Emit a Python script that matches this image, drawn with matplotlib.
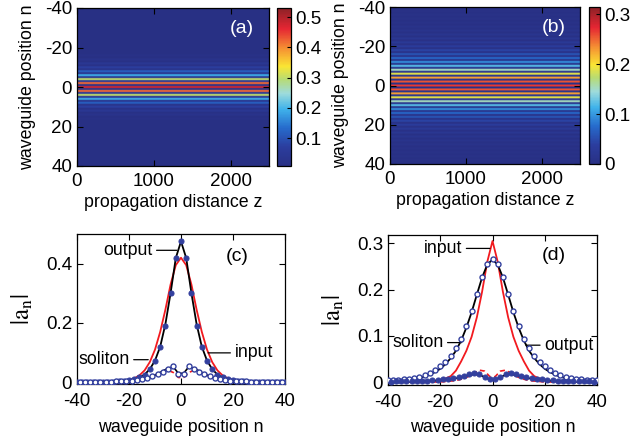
import numpy as np
import matplotlib
matplotlib.use('Agg')
import matplotlib.pyplot as plt
from matplotlib.colors import LinearSegmentedColormap

plt.rcParams['font.family'] = ['Liberation Sans', 'DejaVu Sans']
plt.rcParams['axes.unicode_minus'] = False
plt.rcParams['mathtext.fontset'] = 'stix'

# ---------------- data (half profiles, symmetric about n = 0) ----------------
n_even_half = np.arange(0, 41, 2)      # 0, 2, ..., 40
n_odd_half = np.arange(1, 40, 2)       # 1, 3, ..., 39

# panel (c): large sublattice (even sites)
c_soliton_main = [0.475, 0.419, 0.301, 0.196, 0.120, 0.073, 0.044, 0.026, 0.016, 0.0094, 0.0056,
                  0.0034, 0.002, 0.0012, 0.0007, 0.0004, 0.0003, 0.0002, 0.0001, 0.0001, 0.0001]
c_output_main = [0.478, 0.42, 0.30, 0.19, 0.118, 0.072, 0.043, 0.026, 0.016, 0.010, 0.006,
                 0.004, 0.003, 0.002, 0.002, 0.002, 0.002, 0.002, 0.002, 0.002, 0.002]
c_input_main = [0.42, 0.395, 0.33, 0.245, 0.17, 0.11, 0.068, 0.040, 0.023, 0.013, 0.007,
                0.004, 0.002, 0.001, 0.0006, 0.0004, 0.0002, 0.0001, 0.0001, 0.0001, 0.0001]
# panel (c): small sublattice (odd sites)
c_soliton_small = [0.030, 0.052, 0.047, 0.038, 0.028, 0.020, 0.014, 0.010, 0.007, 0.005,
                   0.0035, 0.0025, 0.0017, 0.0012, 0.0008, 0.0006, 0.0004, 0.0003, 0.0002, 0.0001]
c_output_small = [0.028, 0.054, 0.045, 0.036, 0.027, 0.020, 0.014, 0.010, 0.007, 0.005,
                  0.004, 0.003, 0.003, 0.002, 0.002, 0.002, 0.002, 0.002, 0.002, 0.002]
c_input_small = [0.016, 0.033, 0.040, 0.036, 0.028, 0.020, 0.013, 0.008, 0.005, 0.003,
                 0.002, 0.001, 0.0006, 0.0004, 0.0002, 0.0001, 0.0001, 0.0001, 0.0001, 0.0001]

# panel (d): large sublattice (even sites)
d_soliton_main = [0.265, 0.254, 0.226, 0.189, 0.151, 0.118, 0.090, 0.068, 0.052, 0.039, 0.029,
                  0.022, 0.016, 0.012, 0.009, 0.007, 0.005, 0.004, 0.003, 0.002, 0.0015]
d_output_main = [0.266, 0.256, 0.228, 0.19, 0.153, 0.121, 0.094, 0.073, 0.057, 0.044, 0.034,
                 0.026, 0.020, 0.015, 0.012, 0.009, 0.007, 0.006, 0.005, 0.004, 0.004]
d_input_main = [0.305, 0.26, 0.195, 0.14, 0.098, 0.068, 0.045, 0.025, 0.013, 0.008, 0.005,
                0.003, 0.002, 0.0015, 0.001, 0.0008, 0.0006, 0.0005, 0.0004, 0.0003, 0.0002]
# panel (d): small sublattice (odd sites)
d_output_small = [0.006, 0.012, 0.018, 0.019, 0.017, 0.014, 0.011, 0.009, 0.0075, 0.006,
                  0.005, 0.0042, 0.0036, 0.003, 0.0026, 0.0023, 0.002, 0.0018, 0.0016, 0.0015]
d_soliton_small = [0.005, 0.011, 0.016, 0.017, 0.015, 0.012, 0.0095, 0.0075, 0.006, 0.0048,
                   0.0038, 0.003, 0.0024, 0.002, 0.0016, 0.0013, 0.001, 0.0008, 0.0007, 0.0006]
d_input_small = [0.012, 0.024, 0.026, 0.020, 0.013, 0.008, 0.005, 0.003, 0.002, 0.001,
                 0.0006, 0.0004, 0.0002, 0.0001, 0.0001, 0.0001, 0.0001, 0.0001, 0.0001, 0.0001]

z_samples = np.linspace(0, 2500, 26)
z_ticks = [0, 1000, 2000]
n_ticks = [-40, -20, 0, 20, 40]
cbar_a_ticks = [0.1, 0.2, 0.3, 0.4, 0.5]
cbar_b_ticks = [0, 0.1, 0.2, 0.3]
c_yticks = [0, 0.2, 0.4]
d_yticks = [0, 0.1, 0.2, 0.3]


def mirror_even(half):
    h = np.asarray(half, float)
    return np.concatenate([h[:0:-1], h])


def mirror_odd(half):
    h = np.asarray(half, float)
    return np.concatenate([h[::-1], h])


n_even = np.concatenate([-n_even_half[:0:-1], n_even_half])
n_odd = np.concatenate([-n_odd_half[::-1], n_odd_half])


def full_profile(main_half, small_half):
    prof = np.zeros(81)
    prof[n_even + 40] = mirror_even(main_half)
    prof[n_odd + 40] = mirror_odd(small_half)
    return prof


# ---------------- style ----------------
cmap = LinearSegmentedColormap.from_list('printjet', [
    (0.00, (0.16, 0.19, 0.52)),
    (0.12, (0.17, 0.24, 0.62)),
    (0.24, (0.15, 0.42, 0.80)),
    (0.36, (0.25, 0.70, 0.92)),
    (0.46, (0.62, 0.86, 0.86)),
    (0.55, (0.72, 0.86, 0.45)),
    (0.63, (0.98, 0.90, 0.20)),
    (0.75, (0.96, 0.55, 0.20)),
    (0.87, (0.90, 0.15, 0.20)),
    (1.00, (0.55, 0.13, 0.15)),
])

W, H = 643, 441


def rect(l, r, t, b):
    return [l / W, 1 - b / H, (r - l) / W, (b - t) / H]


fig = plt.figure(figsize=(W / 100, H / 100), dpi=100)

TICK = 13.5
LAB = 12.8


def style_ax(ax, xpad):
    ax.tick_params(direction='in', top=True, right=True, length=4, width=0.8,
                   labelsize=TICK)
    ax.tick_params(axis='x', pad=xpad)
    ax.tick_params(axis='y', pad=3.5)
    for s in ax.spines.values():
        s.set_linewidth(0.9)


def heatmap(axr, cbr, prof, vmin, vmax, cticks, label):
    ax = fig.add_axes(rect(*axr))
    M = np.tile(prof[:, None], (1, len(z_samples)))
    im = ax.imshow(M, aspect='auto', cmap=cmap, vmin=vmin, vmax=vmax,
                   extent=[z_samples[0], z_samples[-1], 40.5, -40.5])
    ax.set_xlim(0, 2500)
    ax.set_ylim(40, -40)
    ax.set_xticks(z_ticks)
    ax.set_yticks(n_ticks)
    ax.set_yticklabels([str(v) for v in n_ticks])
    style_ax(ax, 4.7)
    ax.set_xlabel('propagation distance z', fontsize=LAB, labelpad=3)
    ax.set_ylabel('waveguide position n', fontsize=LAB, labelpad=6)
    ax.text(0.86, 0.87, label, transform=ax.transAxes, color='white', fontsize=14,
            ha='center', va='center')
    cax = fig.add_axes(rect(*cbr))
    cb = fig.colorbar(im, cax=cax, ticks=cticks)
    cb.ax.set_yticklabels(['0' if v == 0 else f'{v:g}' for v in cticks])
    cb.ax.tick_params(direction='in', length=3, width=0.8, labelsize=TICK, pad=3)
    cb.outline.set_linewidth(0.9)
    return ax


heatmap((77, 269, 8, 166), (277, 291, 8, 166), full_profile(c_output_main, c_output_small),
        0.008, 0.53, cbar_a_ticks, '(a)')
heatmap((390, 580, 7, 164), (589, 600, 7, 164), full_profile(d_output_main, d_output_small),
        0.0, 0.315, cbar_b_ticks, '(b)')

BLUE = (0.20, 0.25, 0.62)
RED = (0.95, 0.10, 0.12)


def profile_ax(axr, ylim, yticks, label, lab_pos, main_filled,
               sol_main, out_main, in_main, sol_small, out_small, in_small, notes):
    ax = fig.add_axes(rect(*axr))
    ax.plot(n_even, mirror_even(in_main), color=RED, lw=1.3, zorder=2)
    ax.plot(n_odd, mirror_odd(in_small), color=RED, lw=1.2, ls=(0, (3, 2)), zorder=2)
    ax.plot(n_even, mirror_even(sol_main), color='black', lw=1.3, zorder=3)
    ax.plot(n_odd, mirror_odd(sol_small), color='black', lw=1.2, zorder=3)
    filled = dict(ls='none', marker='o', ms=3.6, mfc=BLUE, mec=BLUE, mew=0.8, zorder=4)
    opened = dict(ls='none', marker='o', ms=3.6, mfc='white', mec=BLUE, mew=1.0, zorder=4)
    ax.plot(n_even, mirror_even(out_main), **(filled if main_filled else opened))
    ax.plot(n_odd, mirror_odd(out_small), **(opened if main_filled else filled))
    ax.set_xlim(-40, 40)
    ax.set_ylim(*ylim)
    ax.set_xticks(n_ticks)
    ax.set_yticks(yticks)
    ax.set_yticklabels(['0' if v == 0 else f'{v:g}' for v in yticks])
    style_ax(ax, 6.6)
    ax.set_xlabel('waveguide position n', fontsize=LAB, labelpad=6)
    ax.set_ylabel(r'$|\mathrm{a}_\mathrm{n}|$', fontsize=18, labelpad=8)
    ax.text(lab_pos[0], lab_pos[1], label, transform=ax.transAxes, fontsize=14,
            ha='center', va='center')
    for txt, xy, xyt, ha in notes:
        ax.annotate(txt, xy=xy, xytext=xyt, ha=ha, va='center', fontsize=LAB,
                    arrowprops=dict(arrowstyle='-', lw=0.9, color='black',
                                    shrinkA=1, shrinkB=0))
    return ax


profile_ax((77, 285, 234, 384), (-0.006, 0.5), c_yticks, '(c)', (0.77, 0.853), True,
           c_soliton_main, c_output_main, c_input_main,
           c_soliton_small, c_output_small, c_input_small,
           [('output', (-1.6, 0.445), (-11.0, 0.445), 'right'),
            ('soliton', (-12.6, 0.076), (-19.8, 0.076), 'right'),
            ('input', (10.4, 0.099), (20.6, 0.099), 'left')])

profile_ax((388, 597, 235, 385), (-0.006, 0.318), d_yticks, '(d)', (0.794, 0.86), False,
           d_soliton_main, d_output_main, d_input_main,
           d_soliton_small, d_output_small, d_input_small,
           [('input', (-1.0, 0.289), (-11.6, 0.289), 'right'),
            ('soliton', (-11.8, 0.0856), (-18.8, 0.0856), 'right'),
            ('output', (12.8, 0.080), (19.8, 0.080), 'left')])

fig.savefig('out.png', dpi=100)
